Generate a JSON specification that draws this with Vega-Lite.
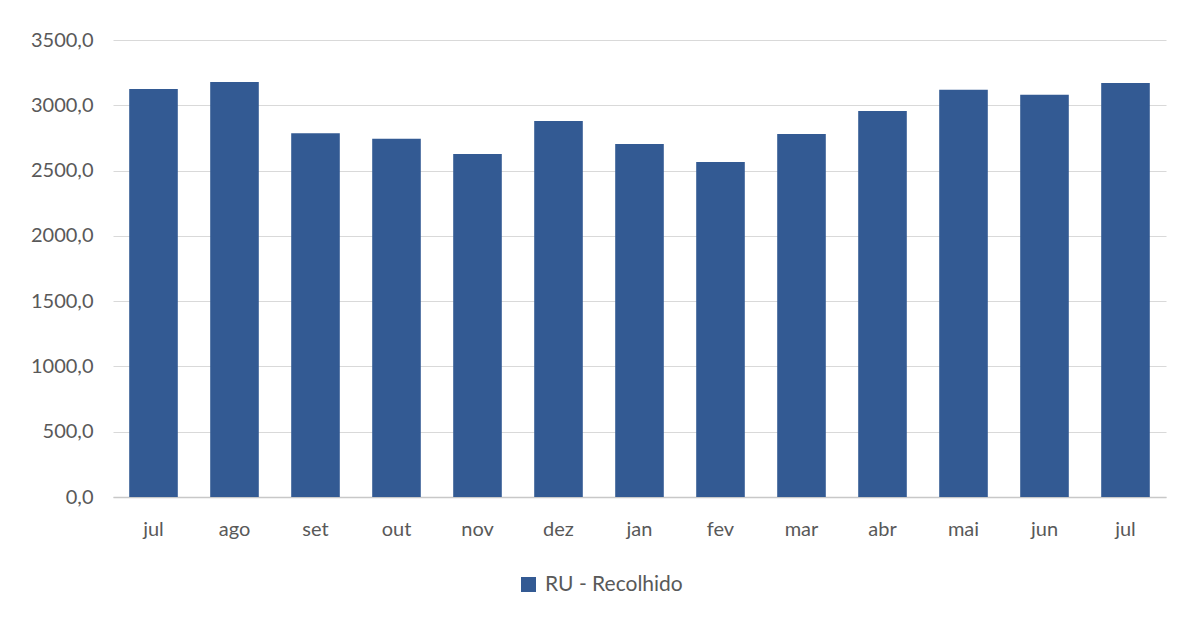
{
  "$schema": "https://vega.github.io/schema/vega-lite/v6.json",
  "autosize": "none",
  "width": 1053,
  "height": 457,
  "padding": {"left": 113, "top": 40, "right": 14, "bottom": 120},
  "background": "white",
  "config": {"view": {"stroke": null}, "font": "Lato"},
  "data": {
    "values": [
      {"periodo": "jul_1", "serie": "RU - Recolhido", "valor": 3124},
      {"periodo": "ago_1", "serie": "RU - Recolhido", "valor": 3178},
      {"periodo": "set_1", "serie": "RU - Recolhido", "valor": 2785},
      {"periodo": "out_1", "serie": "RU - Recolhido", "valor": 2744},
      {"periodo": "nov_1", "serie": "RU - Recolhido", "valor": 2627},
      {"periodo": "dez_1", "serie": "RU - Recolhido", "valor": 2879},
      {"periodo": "jan_2", "serie": "RU - Recolhido", "valor": 2703},
      {"periodo": "fev_2", "serie": "RU - Recolhido", "valor": 2565},
      {"periodo": "mar_2", "serie": "RU - Recolhido", "valor": 2780},
      {"periodo": "abr_2", "serie": "RU - Recolhido", "valor": 2956},
      {"periodo": "mai_2", "serie": "RU - Recolhido", "valor": 3119},
      {"periodo": "jun_2", "serie": "RU - Recolhido", "valor": 3080},
      {"periodo": "jul_2", "serie": "RU - Recolhido", "valor": 3170}
    ]
  },
  "mark": {"type": "bar"},
  "encoding": {
    "x": {
      "field": "periodo",
      "type": "nominal",
      "sort": null,
      "scale": {"paddingInner": 0.4, "paddingOuter": 0.2},
      "axis": {
        "title": null,
        "labelAngle": 0,
        "labelExpr": "split(datum.value, '_')[0]",
        "labelFontSize": 20,
        "labelColor": "#595959",
        "labelPadding": 22,
        "ticks": false,
        "domain": true,
        "domainColor": "#c8c8c8",
        "domainWidth": 1.5
      }
    },
    "y": {
      "field": "valor",
      "type": "quantitative",
      "scale": {"domain": [0, 3500]},
      "axis": {
        "title": null,
        "values": [0, 500, 1000, 1500, 2000, 2500, 3000, 3500],
        "labelExpr": "replace(format(datum.value, '.1f'), '.', ',')",
        "labelFontSize": 20,
        "labelColor": "#595959",
        "labelPadding": 20,
        "ticks": false,
        "domain": false,
        "gridColor": "#d9d9d9",
        "gridWidth": 1
      }
    },
    "color": {
      "field": "serie",
      "type": "nominal",
      "scale": {"range": ["#335a93"]},
      "legend": {
        "title": null,
        "orient": "none",
        "legendX": 405,
        "legendY": 534,
        "symbolType": "square",
        "symbolSize": 225,
        "symbolStrokeWidth": 0,
        "labelFontSize": 21,
        "labelColor": "#595959",
        "labelOffset": 6
      }
    }
  }
}
